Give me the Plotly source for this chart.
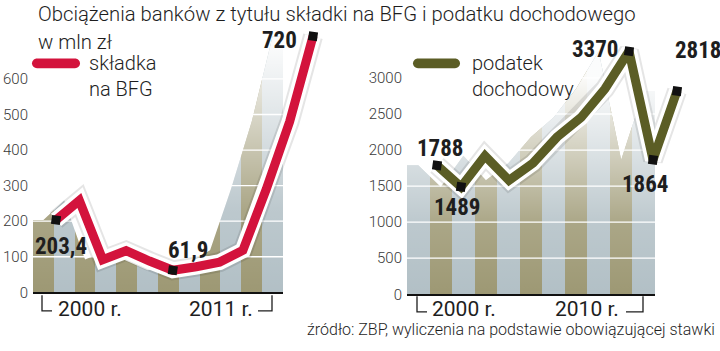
import plotly.graph_objects as go

# ---------------- data ----------------
years_bfg = list(range(2000, 2012))
bfg = [203.4, 258, 92, 117, 88, 61.9, 72, 85, 118, 290, 480, 720]
bfg_labels = {2000: "203,4", 2005: "61,9", 2011: "720"}
bfg_ticks = [0, 100, 200, 300, 400, 500, 600]

years_tax = list(range(2000, 2011))
tax = [1788, 1489, 1920, 1580, 1820, 2180, 2450, 2850, 3370, 1864, 2818]
tax_labels = {2000: "1788", 2001: "1489", 2008: "3370", 2009: "1864", 2010: "2818"}
tax_ticks = [0, 500, 1000, 1500, 2000, 2500, 3000]

title_text = "Obciążenia banków z tytułu składki na BFG i podatku dochodowego"
unit_text = "w mln zł"
legend_bfg = "składka<br>na BFG"
legend_tax = "podatek<br>dochodowy"
source_text = "źródło: ZBP, wyliczenia na podstawie obowiązującej stawki"

# ---------------- style ----------------
W, H = 720, 351
RED = "#d3133c"
OLIVE = "#5b5d25"
STRIPE_A = "#9c9772"
STRIPE_B = "#b1bfc5"
TXT = "#1e1e1e"
FONT = "Roboto"
BOLD_FONT = "Liberation Sans Narrow, Roboto Condensed, Roboto"


def px(x):
    return x / W


def py(y):
    return 1 - y / H


def stripes(n, first_a=True):
    cs = []
    for k in range(n):
        c = STRIPE_A if (k % 2 == 0) == first_a else STRIPE_B
        cs.append([k / n, c])
        cs.append([(k + 1) / n, c])
    return cs


fig = go.Figure()


def panel(years, vals, labels, ticks, xs, xl, ys, fade_top, color, first_a,
          offsets):
    x0, x1 = years[0] - 0.5, years[-1] + 0.5
    ax = [x0] + years + [x1]
    ay = [vals[0]] + vals + [vals[-1]]
    n = len(years)
    # striped area
    fig.add_trace(go.Scatter(
        x=ax, y=ay, xaxis=xs, yaxis=ys, mode="lines", line=dict(width=0),
        fill="tozeroy",
        fillgradient=dict(type="horizontal", start=x0, stop=x1,
                          colorscale=stripes(n, first_a)),
        hoverinfo="skip", showlegend=False))
    # fading overlay
    fig.add_trace(go.Scatter(
        x=ax, y=ay, xaxis=xs, yaxis=ys, mode="lines", line=dict(width=0),
        fill="tozeroy",
        fillgradient=dict(type="vertical", start=0, stop=fade_top,
                          colorscale=[[0, "rgba(255,255,255,0)"],
                                      [0.35, "rgba(255,255,255,0.15)"],
                                      [1, "rgba(255,255,255,0.95)"]]),
        hoverinfo="skip", showlegend=False))
    # white grid lines over the stripes
    gx, gy = [], []
    for t in ticks[1:]:
        gx += [x0, x1, None]
        gy += [t, t, None]
    fig.add_trace(go.Scatter(x=gx, y=gy, xaxis=xs, yaxis=ys, mode="lines",
                             line=dict(color="white", width=1.3),
                             hoverinfo="skip", showlegend=False))
    # line: shadow, halo, colour
    for c, w in (("rgba(0,0,0,0.10)", 20), ("white", 16), (color, 9)):
        fig.add_trace(go.Scatter(x=years, y=vals, xaxis=xl, yaxis=ys,
                                 mode="lines", line=dict(color=c, width=w),
                                 hoverinfo="skip", showlegend=False))
    lx = [y for y in years if y in labels]
    lv = [vals[years.index(y)] for y in lx]
    fig.add_trace(go.Scatter(x=lx, y=lv, xaxis=xl, yaxis=ys, mode="markers",
                             marker=dict(symbol="square", size=9, color="#111",
                                         angle=8),
                             hoverinfo="skip", showlegend=False))
    for y, v in zip(lx, lv):
        dx, dy = offsets[y]
        fig.add_annotation(x=y, y=v, xref=xl, yref=ys, text=labels[y],
                           showarrow=False, xshift=dx, yshift=dy,
                           font=dict(family=BOLD_FONT, size=23, color=TXT,
                                     weight="bold"))


panel(years_bfg, bfg, bfg_labels, bfg_ticks, "x", "x2", "y", 700, RED, True,
      {2000: (5, -27), 2005: (16, 20), 2011: (-33, -4)})
panel(years_tax, tax, tax_labels, tax_ticks, "x3", "x4", "y2", 3000, OLIVE,
      False,
      {2000: (4, 17), 2001: (-3, -21), 2008: (-34, 2),
       2009: (-8, -25), 2010: (21, 41)})


def line_domain(p0, p1, n, pad):
    ppy = (p1 - p0) / (n - 1)
    return [px(p0 - pad * ppy), px(p1 + pad * ppy)]


axis_common = dict(showgrid=False, zeroline=False, ticks="", fixedrange=True)
tickfont = dict(family=FONT, size=15, color="#3a3a3a", weight=300)

fig.update_layout(
    width=W, height=H, margin=dict(l=0, r=0, t=0, b=0),
    paper_bgcolor="white", plot_bgcolor="rgba(0,0,0,0)",
    showlegend=False,
    xaxis=dict(domain=[px(33), px(283)], range=[1999.5, 2011.5], anchor="y",
               showline=True, linecolor="#111", linewidth=2,
               showticklabels=False, **axis_common),
    xaxis2=dict(domain=line_domain(56, 313, 12, 0.45),
                range=[1999.55, 2011.45], anchor="y", visible=False,
                **axis_common),
    yaxis=dict(domain=[py(300), py(300 - 760 * 0.365)], range=[0, 760],
               anchor="x", tickvals=bfg_ticks, tickfont=tickfont,
               ticklabelstandoff=4, **axis_common),
    xaxis3=dict(domain=[px(407), px(655)], range=[1999.5, 2010.5], anchor="y2",
                showline=True, linecolor="#111", linewidth=2,
                showticklabels=False, **axis_common),
    xaxis4=dict(domain=line_domain(437, 677, 11, 0.45),
                range=[1999.55, 2010.45], anchor="y2", visible=False,
                **axis_common),
    yaxis2=dict(domain=[py(302), py(302 - 3550 * 0.074)], range=[0, 3550],
                anchor="x3", tickvals=tax_ticks, tickfont=tickfont,
                ticklabelstandoff=4, **axis_common),
)

# titles
fig.add_annotation(x=px(36), y=py(14), xref="paper", yref="paper",
                   text=title_text, showarrow=False, xanchor="left",
                   yanchor="middle",
                   font=dict(family=FONT, size=20.3, color=TXT, weight=300))
fig.add_annotation(x=px(36), y=py(43), xref="paper", yref="paper",
                   text=unit_text, showarrow=False, xanchor="left",
                   yanchor="middle",
                   font=dict(family=FONT, size=20.3, color=TXT, weight=300))


def pill(x0, x1, yc, h, color):
    r = h / 2
    k = 0.55 * r
    X = px
    Y = py
    path = (f"M{X(x0 + r)},{Y(yc - r)} L{X(x1 - r)},{Y(yc - r)} "
            f"C{X(x1 - r + k)},{Y(yc - r)} {X(x1)},{Y(yc - k)} {X(x1)},{Y(yc)} "
            f"C{X(x1)},{Y(yc + k)} {X(x1 - r + k)},{Y(yc + r)} {X(x1 - r)},{Y(yc + r)} "
            f"L{X(x0 + r)},{Y(yc + r)} "
            f"C{X(x0 + r - k)},{Y(yc + r)} {X(x0)},{Y(yc + k)} {X(x0)},{Y(yc)} "
            f"C{X(x0)},{Y(yc - k)} {X(x0 + r - k)},{Y(yc - r)} {X(x0 + r)},{Y(yc - r)} Z")
    fig.add_shape(type="path", path=path, xref="paper", yref="paper",
                  fillcolor=color, line=dict(width=0))


pill(32, 80, 65, 10, RED)
pill(413, 460, 65, 10, OLIVE)
for xx, txt in ((87, legend_bfg), (470, legend_tax)):
    fig.add_annotation(x=px(xx), y=py(78), xref="paper", yref="paper",
                       text=txt, showarrow=False, xanchor="left",
                       yanchor="middle", align="left",
                       font=dict(family=FONT, size=20, color=TXT, weight=300))

# year labels with brackets
for xc, txt in ((90, "2000 r."), (221, "2011 r."), (464, "2000 r."),
                (587, "2010 r.")):
    fig.add_annotation(x=px(xc), y=py(317), xref="paper", yref="paper",
                       text=txt, showarrow=False, xanchor="center",
                       yanchor="middle",
                       font=dict(family=FONT, size=21, color=TXT))


def bracket(xv, xh, ytop, ybot):
    fig.add_shape(type="path",
                  path=f"M{px(xv)},{py(ytop)} L{px(xv)},{py(ybot)} L{px(xh)},{py(ybot)}",
                  xref="paper", yref="paper", line=dict(color=TXT, width=1.3))


bracket(42, 52, 303, 319)
bracket(272, 258, 303, 319)
bracket(417, 427, 304, 320)
bracket(643, 626, 304, 320)

fig.add_annotation(x=px(717), y=py(338), xref="paper", yref="paper",
                   text=source_text, showarrow=False, xanchor="right",
                   yanchor="middle",
                   font=dict(family=FONT, size=16, color=TXT, weight=300))

fig.write_html("out.html")
